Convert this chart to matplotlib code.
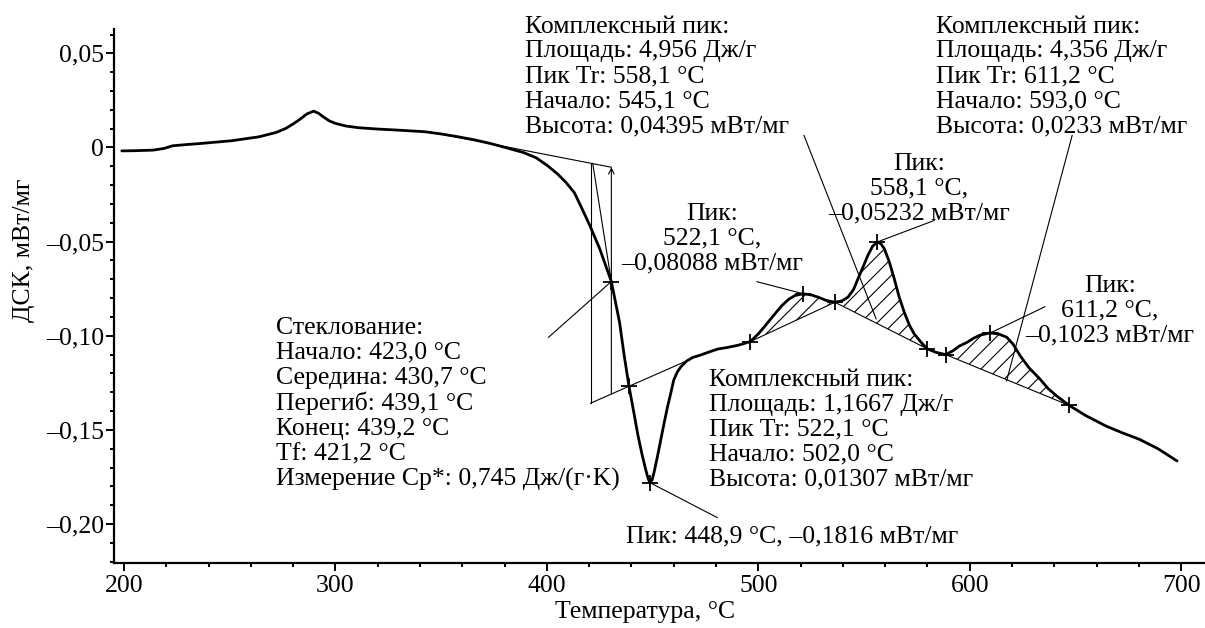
import matplotlib
matplotlib.use('Agg')
import matplotlib.pyplot as plt
from matplotlib.ticker import MultipleLocator, FuncFormatter
import numpy as np

plt.rcParams['font.family'] = ['Liberation Serif', 'DejaVu Serif']
plt.rcParams['hatch.linewidth'] = 0.8

# Кривая ДСК
temp = [199, 205, 213.8, 219, 223, 230, 236, 251, 264, 272, 276.5, 280, 283, 286.5,
        289.7, 292, 294, 297, 300, 305, 311, 320, 330, 342, 350, 358, 366, 373.4,
        381, 389, 395, 400, 405, 409, 413, 416, 420.3, 425, 430.5, 434.4, 436.5,
        438.8, 441, 443.1, 445, 446.5, 447.8, 448.7, 449.8, 450.8, 452.5, 454.8,
        457, 458.7, 460, 461.8, 463.4, 466, 469, 472, 477, 481, 485, 490.6, 496.2,
        500, 503.3, 507, 511.1, 514.5, 517.4, 521.3, 525, 528.3, 532, 536.2, 539.5,
        542.4, 545, 547.1, 549.5, 551.8, 554, 556.2, 558, 559.6, 562, 564.3, 566.5,
        569, 571.5, 573.7, 577, 580, 584, 588.6, 592, 595, 598.7, 602, 605, 609.7,
        613.5, 617.5, 620.5, 623.8, 628, 633.2, 637, 641, 647, 655, 664.5, 672,
        680.2, 689, 698]
dsc = [-0.0018, -0.0017, -0.0014, -0.0005, 0.0009, 0.0016, 0.0021, 0.0036, 0.0057,
       0.0080, 0.0101, 0.0125, 0.0148, 0.0178, 0.0193, 0.0182, 0.0165, 0.0142,
       0.0128, 0.0114, 0.0105, 0.0098, 0.0092, 0.0084, 0.0072, 0.0057, 0.0040,
       0.0021, -0.0002, -0.0027, -0.0055, -0.0094, -0.0140, -0.0185, -0.0240,
       -0.0310, -0.0414, -0.0538, -0.0712, -0.093, -0.110, -0.1266, -0.140, -0.153,
       -0.163, -0.170, -0.1755, -0.178, -0.1765, -0.172, -0.163, -0.150, -0.138,
       -0.130, -0.1235, -0.119, -0.1165, -0.1135, -0.1115, -0.1105, -0.1085, -0.107,
       -0.1063, -0.105, -0.1031, -0.099, -0.0946, -0.0895, -0.084, -0.0805, -0.0786,
       -0.0777, -0.0783, -0.0795, -0.0812, -0.0822, -0.0815, -0.0795, -0.0755,
       -0.0698, -0.0635, -0.0573, -0.0525, -0.0502, -0.0512, -0.0538, -0.061,
       -0.0698, -0.079, -0.0875, -0.0945, -0.099, -0.1035, -0.107, -0.1088, -0.110,
       -0.108, -0.1055, -0.1035, -0.1012, -0.0996, -0.0985, -0.0990, -0.1008,
       -0.1045, -0.1106, -0.117, -0.123, -0.128, -0.1319, -0.137, -0.1425, -0.148,
       -0.1515, -0.155, -0.160, -0.1665]

# Отмеченные точки (+)
mark_t = [430.5, 438.8, 448.7, 496.2, 521.3, 536.2, 556.2, 580, 588.6, 609.7, 647]
mark_v = [-0.0712, -0.1266, -0.178, -0.1031, -0.0777, -0.0822, -0.0502, -0.107, -0.110,
          -0.0985, -0.137]

# Границы заштрихованных пиков (начало, конец)
peak_bounds = [(496.2, 536.2), (536.2, 580), (588.6, 647)]

# Стеклование: касательные
upper_line = ([350, 430.5], [0.0071, -0.0105])
lower_line = ([420.7, 464.8], [-0.1358, -0.114])
tf_t = 420.7
mid_t = 430.5

# Выноски
leaders = [
    ([430.5, 400.8], [-0.0712, -0.1008]),
    ([421.7, 430.5], [-0.0085, -0.0712]),
    ([521.3, 499.4], [-0.0777, -0.0713]),
    ([556.2, 583.1], [-0.0502, -0.0388]),
    ([609.7, 635.5], [-0.0985, -0.0846]),
    ([521.6, 555.7], [0.0064, -0.091]),
    ([648.4, 617.4], [0.0064, -0.124]),
    ([448.7, 480.6], [-0.178, -0.1966]),
]

txt_top_mid = ('Комплексный пик:\nПлощадь: 4,956 Дж/г\nПик Tr: 558,1 °C\n'
               'Начало: 545,1 °C\nВысота: 0,04395 мВт/мг')
txt_top_right = ('Комплексный пик:\nПлощадь: 4,356 Дж/г\nПик Tr: 611,2 °C\n'
                 'Начало: 593,0 °C\nВысота: 0,0233 мВт/мг')
txt_low_mid = ('Комплексный пик:\nПлощадь: 1,1667 Дж/г\nПик Tr: 522,1 °C\n'
               'Начало: 502,0 °C\nВысота: 0,01307 мВт/мг')
txt_glass = ('Стеклование:\nНачало: 423,0 °C\nСередина: 430,7 °C\nПерегиб: 439,1 °C\n'
             'Конец: 439,2 °C\nTf: 421,2 °C\nИзмерение Cp*: 0,745 Дж/(г·K)')
txt_p522 = 'Пик:\n522,1 °C,\n–0,08088 мВт/мг'
txt_p558 = 'Пик:\n558,1 °C,\n–0,05232 мВт/мг'
txt_p611 = 'Пик:\n611,2 °C,\n–0,1023 мВт/мг'
txt_p449 = 'Пик: 448,9 °C, –0,1816 мВт/мг'

fig = plt.figure(figsize=(12.05, 6.28), dpi=100)
ax = fig.add_axes([0.0946, 0.1035, 0.905, 0.8505])

t = np.array(temp)
v = np.array(dsc)

# штриховка пиков
for a, b in peak_bounds:
    va_ = np.interp(a, t, v)
    vb_ = np.interp(b, t, v)
    sel = (t >= a) & (t <= b)
    ts = t[sel]
    base = va_ + (vb_ - va_) * (ts - a) / (b - a)
    ax.fill_between(ts, v[sel], base, facecolor='none', edgecolor='black',
                    hatch='//', linewidth=0)
    ax.plot([a, b], [va_, vb_], color='black', lw=0.8)

ax.plot(t, v, color='black', lw=2.0, solid_capstyle='round')

ax.plot(*upper_line, color='black', lw=0.8)
ax.plot(*lower_line, color='black', lw=0.8)
ax.plot([tf_t, tf_t], [np.interp(tf_t, *upper_line), lower_line[1][0]], color='black', lw=0.8)
for xs, ys in leaders:
    ax.plot(xs, ys, color='black', lw=0.8)
ax.annotate('', xy=(mid_t, np.interp(mid_t, *upper_line)),
            xytext=(mid_t, np.interp(mid_t, *lower_line)),
            arrowprops=dict(arrowstyle='->', color='black', lw=0.8, shrinkA=0, shrinkB=0))

ax.plot(mark_t, mark_v, '+', color='black', ms=11, mew=1.3)

fs = 18.5
ls = 1.17
ax.text(389.5, 0.0378, txt_top_mid, fontsize=fs, linespacing=ls, ha='left', va='center')
ax.text(584, 0.0378, txt_top_right, fontsize=fs, linespacing=ls, ha='left', va='center')
ax.text(476.5, -0.1498, txt_low_mid, fontsize=fs, linespacing=ls, ha='left', va='center')
ax.text(272, -0.1362, txt_glass, fontsize=fs, linespacing=ls, ha='left', va='center')
ax.text(478.2, -0.0484, txt_p522, fontsize=fs, linespacing=ls, ha='center', va='center',
        multialignment='center')
ax.text(576, -0.0218, txt_p558, fontsize=fs, linespacing=ls, ha='center', va='center',
        multialignment='center')
ax.text(666.2, -0.0867, txt_p611, fontsize=fs, linespacing=ls, ha='center', va='center',
        multialignment='center')
ax.text(437.6, -0.2064, txt_p449, fontsize=fs, ha='left', va='center')

ax.set_xlim(195.3, 711)
ax.set_ylim(-0.2207, 0.063)
ax.spines['top'].set_visible(False)
ax.spines['right'].set_visible(False)
ax.spines['left'].set_linewidth(1.6)
ax.spines['bottom'].set_linewidth(1.6)

ax.xaxis.set_major_locator(MultipleLocator(100))
ax.xaxis.set_minor_locator(MultipleLocator(20))
ax.yaxis.set_major_locator(MultipleLocator(0.05))
ax.yaxis.set_minor_locator(MultipleLocator(0.01))
ax.tick_params(which='major', direction='out', length=5.5, width=1.4, labelsize=fs)
ax.tick_params(which='minor', direction='out', length=3, width=1.4)
ax.tick_params(axis='y', which='major', pad=1.5)
ax.tick_params(axis='x', which='major', pad=3)


def yfmt(val, pos):
    if abs(val) < 1e-9:
        return '0'
    s = f'{abs(val):.2f}'.replace('.', ',')
    return ('–' if val < 0 else '') + s


ax.yaxis.set_major_formatter(FuncFormatter(yfmt))

ax.set_xlabel('Температура, °C', fontsize=fs)
ax.xaxis.set_label_coords(0.487, -0.072)
ax.set_ylabel('ДСК, мВт/мг', fontsize=fs)
ax.yaxis.set_label_coords(-0.072, 0.586)

fig.savefig('out.png', dpi=100)
